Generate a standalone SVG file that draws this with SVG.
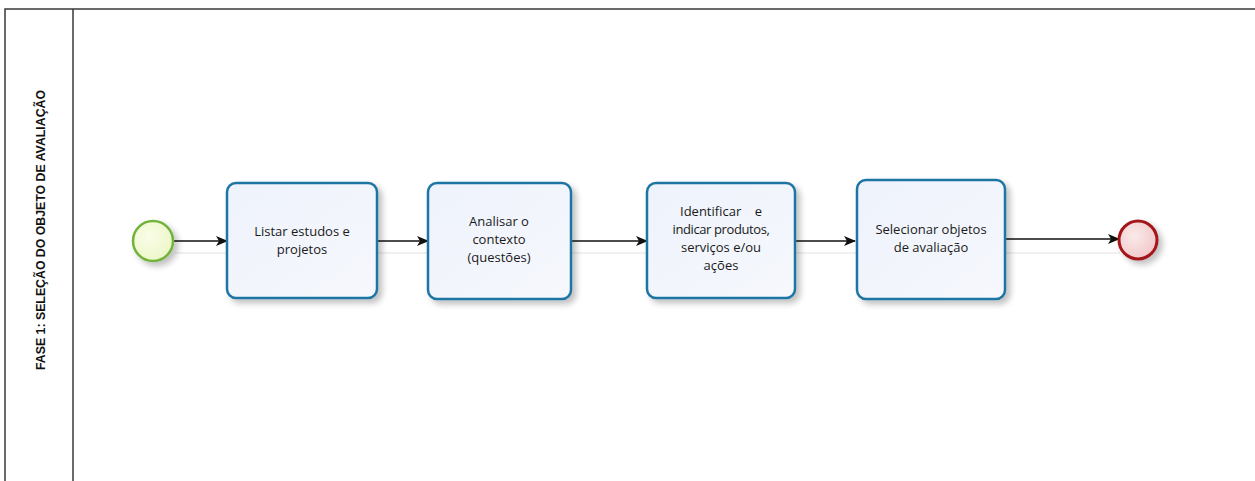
<svg xmlns="http://www.w3.org/2000/svg" width="1255" height="481" viewBox="0 0 1255 481">
<style>
.pool{fill:none;stroke:#3a3a3a;stroke-width:1.5}
.task{fill:url(#tg);stroke:#1e75a3;stroke-width:2.5;filter:url(#sh)}
.lbl{font-family:"Open Sans","DejaVu Sans",sans-serif;font-size:13px;fill:#1a1a1a;text-anchor:middle}
.conn{stroke:#111;stroke-width:1.3;fill:none;marker-end:url(#ah)}
.ghost{stroke:#f0f0f0;stroke-width:2;fill:none}
</style>
<defs>
<linearGradient id="tg" x1="0" y1="0" x2="1" y2="1">
<stop offset="0" stop-color="#eef2fb"/>
<stop offset="1" stop-color="#f6f8fd"/>
</linearGradient>
<radialGradient id="sg" cx="0.4" cy="0.4" r="0.7">
<stop offset="0" stop-color="#fafde8"/>
<stop offset="1" stop-color="#eaf6c4"/>
</radialGradient>
<radialGradient id="eg" cx="0.4" cy="0.4" r="0.7">
<stop offset="0" stop-color="#fbeaea"/>
<stop offset="1" stop-color="#f0c4c6"/>
</radialGradient>
<filter id="sh" x="-20%" y="-20%" width="150%" height="150%">
<feGaussianBlur in="SourceAlpha" stdDeviation="3"/>
<feOffset dx="4" dy="4" result="b"/>
<feComponentTransfer><feFuncA type="linear" slope="0.25"/></feComponentTransfer>
<feMerge><feMergeNode/><feMergeNode in="SourceGraphic"/></feMerge>
</filter>
<marker id="ah" markerWidth="12" markerHeight="10" refX="11" refY="5" orient="auto" markerUnits="userSpaceOnUse">
<path d="M0,0 L12,5 L0,10 L3,5 Z" fill="#111"/>
</marker>
</defs>
<rect width="1255" height="481" fill="#fff"/>
<g id="pool">
<path class="pool" d="M1260,9 H5 V490 M73,9 V490"/>
<text transform="translate(44.5,230) rotate(-90)" text-anchor="middle" font-family="'Liberation Sans',Arial,sans-serif" font-weight="bold" font-size="12.5" fill="#111" textLength="280" lengthAdjust="spacingAndGlyphs">FASE 1: SELEÇÃO DO OBJETO DE AVALIAÇÃO</text>
</g>
<g id="connectors">
<path class="ghost" d="M175,253 H1120"/>
<path class="conn" d="M174,241 H227"/>
<path class="conn" d="M377,241 H428"/>
<path class="conn" d="M571,241 H647"/>
<path class="conn" d="M795,241 H855"/>
<path class="conn" d="M1006,239 H1119"/>
</g>
<g id="start">
<circle cx="153" cy="241" r="20" fill="url(#sg)" stroke="#72b33b" stroke-width="2.5" filter="url(#sh)"/>
</g>
<g id="task1">
<rect class="task" x="227" y="183" width="150" height="115" rx="9"/>
<text class="lbl" x="302" y="236">Listar estudos e</text>
<text class="lbl" x="302" y="254">projetos</text>
</g>
<g id="task2">
<rect class="task" x="428" y="183" width="143" height="116" rx="9"/>
<text class="lbl" x="499" y="226">Analisar o</text>
<text class="lbl" x="499" y="244">contexto</text>
<text class="lbl" x="499" y="262">(questões)</text>
</g>
<g id="task3">
<rect class="task" x="647" y="183" width="148" height="115" rx="9"/>
<text class="lbl" x="721" y="216" xml:space="preserve">Identificar    e</text>
<text class="lbl" x="721" y="234" letter-spacing="-0.4">indicar produtos,</text>
<text class="lbl" x="721" y="252">serviços e/ou</text>
<text class="lbl" x="721" y="270">ações</text>
</g>
<g id="task4">
<rect class="task" x="857" y="180" width="148" height="119" rx="9"/>
<text class="lbl" x="931" y="234">Selecionar objetos</text>
<text class="lbl" x="931" y="252">de avaliação</text>
</g>
<g id="end">
<circle cx="1138" cy="240" r="19" fill="url(#eg)" stroke="#a3161b" stroke-width="3" filter="url(#sh)"/>
</g>
</svg>
